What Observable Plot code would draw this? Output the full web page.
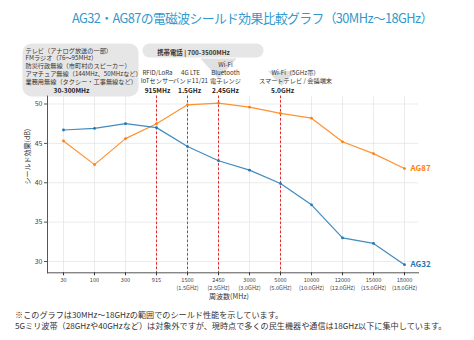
<!DOCTYPE html>
<html>
<head>
<meta charset="utf-8">
<script src="https://cdn.jsdelivr.net/npm/d3@7"></script>
<script src="https://cdn.jsdelivr.net/npm/@observablehq/plot@0.6"></script>
<style>
  body { margin: 0; background: #fff; font-family: "Noto Sans CJK JP", "Noto Sans", sans-serif; }
  #wrap { width: 474px; height: 340px; position: relative; overflow: hidden; background: #fff; }
  #title { height: 34px; line-height: 36px; padding-left: 72px; font-size: 12.8px; letter-spacing: -0.6px; color: #3399cc; white-space: nowrap; }
  #note { padding: 3px 0 0 15px; font-size: 8.15px; line-height: 11px; color: #333; white-space: nowrap; }
  #chart { height: 272px; }
  #chart svg { display: block; }
</style>
</head>
<body>
<div id="wrap">
  <div id="title">AG32・AG87の電磁波シールド効果比較グラフ（30MHz〜18GHz）</div>
  <div id="chart"></div>
  <div id="note">※このグラフは30MHz〜18GHzの範囲でのシールド性能を示しています。<br>5Gミリ波帯（28GHzや40GHzなど）は対象外ですが、現時点で多くの民生機器や通信は18GHz以下に集中しています。</div>
</div>
<script>
const categories = ["30","100","300","915","1500","2450","3000","5000","10000","12000","15000","18000"];
const tickLabels = ["30","100","300","915","1500\n(1.5GHz)","2450\n(2.5GHz)","3000\n(3.0GHz)","5000\n(5.0GHz)","10000\n(10.0GHz)","12000\n(12.0GHz)","15000\n(15.0GHz)","18000\n(18.0GHz)"];
const ag32 = [46.7, 46.9, 47.5, 47.0, 44.6, 42.8, 41.6, 39.9, 37.2, 33.0, 32.3, 29.6];
const ag87 = [45.3, 42.3, 45.6, 47.5, 49.9, 50.1, 49.6, 48.8, 48.2, 45.2, 43.7, 41.8];
const yTicks = [30, 35, 40, 45, 50];
const markerFreqs = ["915", "1500", "2450", "5000"];
const markerDesc = ["RFID/LoRa\nIoTセンサー", "4G LTE\nバンド11/21", "Wi-Fi\nBluetooth\n電子レンジ", "Wi-Fi（5GHz帯）\nスマートテレビ / 会議端末"];
const markerLabels = ["915MHz", "1.5GHz", "2.45GHz", "5.0GHz"];
const lowBandText = "テレビ（アナログ放送の一部）\nFMラジオ（76〜95MHz）\n防災行政無線（市町村のスピーカー）\nアマチュア無線（144MHz、50MHzなど）\n業務用無線（タクシー・工事無線など）";
const lowBandLabel = "30-300MHz";
const mobileText = "携帯電話 | 700-3500MHz";

const rows = categories.flatMap((c, i) => [
  {freq: c, series: "AG32", value: ag32[i]},
  {freq: c, series: "AG87", value: ag87[i]}
]);
const blue = "#1f77b4", orange = "#ff7f0e";
const FONT = "Noto Sans CJK JP";

const descOffsets = [1, 3, 7, 15];
const labelOffsets = [1, 2, 7, 2];

// flat, downward-pointing triangle symbol
const flatTriangle = {
  draw(context, size) {
    const w = Math.sqrt(size);
    context.moveTo(-w, -0.55 * w);
    context.lineTo(w, -0.55 * w);
    context.lineTo(0, 0.55 * w);
    context.closePath();
  }
};

const chart = Plot.plot({
  width: 474,
  height: 272,
  marginLeft: 47,
  marginRight: 56,
  marginTop: 61.6,
  marginBottom: 33.7,
  style: {fontFamily: FONT, fontSize: "7px", color: "#333", background: "white", overflow: "visible"},
  x: {type: "point", domain: categories, range: [63, 404], padding: 0},
  y: {domain: [30, 50], range: [227, 69.5]},
  marks: [
    // background call-out shapes
    Plot.frame({fill: "#e6e6e6", stroke: "none", rx: 9, insetLeft: -25, insetRight: 280, insetTop: -52.6, insetBottom: 176.3}),
    Plot.frame({fill: "#e6e6e6", stroke: "none", rx: 7, insetLeft: 95, insetRight: 155, insetTop: -52.6, insetBottom: 215.3}),
    Plot.dot(["2450"], {x: d => d, frameAnchor: "top", dy: -27.6, symbol: flatTriangle, r: 10.2, fill: "#e0e0e0", stroke: "none"}),
    Plot.dot(["5000"], {x: d => d, frameAnchor: "top", dy: -17.6, dx: 1, symbol: flatTriangle, r: 7.7, fill: "#e0e0e0", stroke: "none"}),
    Plot.gridX(categories, {stroke: "#e2e2e2", strokeOpacity: 1, strokeWidth: 0.7}),
    Plot.gridY(yTicks, {stroke: "#e2e2e2", strokeOpacity: 1, strokeWidth: 0.7}),
    Plot.ruleX(markerFreqs, {stroke: "#e8262a", strokeWidth: 1, strokeDasharray: "2.5,2"}),
    Plot.frame({anchor: "left", stroke: "#555"}),
    Plot.frame({anchor: "bottom", stroke: "#555"}),
    Plot.axisY({ticks: yTicks, tickSize: 3, tickPadding: 2, label: null, fontSize: 7, stroke: "#555", fill: "#444"}),
    Plot.axisX({tickFormat: d => tickLabels[categories.indexOf(d)], tickSize: 3, tickPadding: 1, label: null, fontSize: 5.6, lineHeight: 1.35, fill: "#444"}),
    Plot.line(rows.filter(d => d.series === "AG87"), {x: "freq", y: "value", stroke: orange, strokeWidth: 1.2, strokeOpacity: 0.85}),
    Plot.line(rows.filter(d => d.series === "AG32"), {x: "freq", y: "value", stroke: blue, strokeWidth: 1.2, strokeOpacity: 0.85}),
    Plot.dot(rows.filter(d => d.series === "AG87"), {x: "freq", y: "value", fill: orange, r: 1.4}),
    Plot.dot(rows.filter(d => d.series === "AG32"), {x: "freq", y: "value", fill: blue, r: 1.4}),
    Plot.text(rows.filter(d => d.freq === categories[categories.length - 1]), {
      x: "freq", y: "value", text: "series", fill: d => d.series === "AG32" ? blue : orange,
      textAnchor: "start", dx: 6, fontWeight: "bold", fontSize: 8
    }),
    // axis titles
    Plot.text(["シールド効果(dB)"], {frameAnchor: "left", rotate: -90, dx: -20, fontSize: 7, fill: "#333"}),
    Plot.text(["周波数(MHz)"], {frameAnchor: "bottom", dy: 26, dx: -4, fontSize: 7, fill: "#333"}),
    // low band box
    Plot.text([lowBandText], {frameAnchor: "top-left", dx: -22, dy: -49, textAnchor: "start", lineAnchor: "top", lineHeight: 1.25, fontSize: 6.2, fill: "#333"}),
    Plot.text([lowBandLabel], {frameAnchor: "top-left", dx: 24, dy: -8, textAnchor: "middle", fontSize: 6.6, fontWeight: "bold", fill: "#222"}),
    Plot.text([mobileText], {frameAnchor: "top-left", dx: 146, dy: -46, textAnchor: "middle", fontSize: 6.4, fontWeight: "bold", fill: "#333"}),
    // marker annotations
    ...markerFreqs.map((f, i) => Plot.text([f], {x: d => d, frameAnchor: "top", text: () => markerDesc[i], lineAnchor: "bottom", lineHeight: 1.3, dx: descOffsets[i], dy: -13, fontSize: 6.2, fill: "#333"})),
    ...markerFreqs.map((f, i) => Plot.text([f], {x: d => d, frameAnchor: "top", text: () => markerLabels[i], dx: labelOffsets[i], dy: -8, fontSize: 6.6, fontWeight: "bold", fill: "#222"}))
  ]
});
document.getElementById("chart").appendChild(chart);
</script>
</body>
</html>
